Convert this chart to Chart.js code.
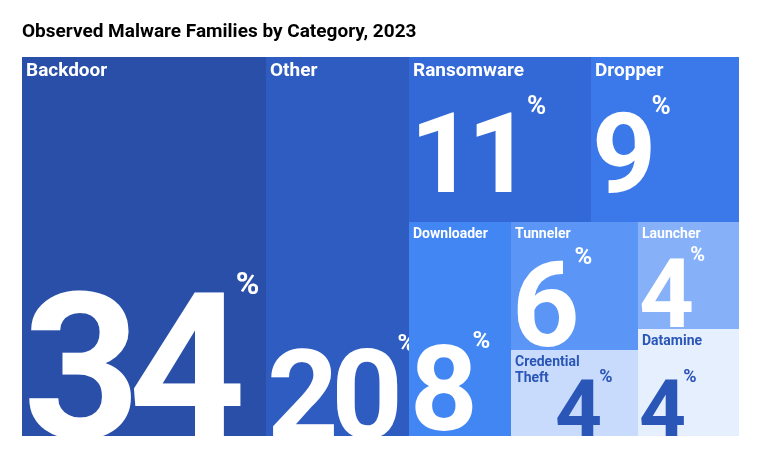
<!DOCTYPE html>
<html><head><meta charset="utf-8">
<script src="https://cdn.jsdelivr.net/npm/chart.js@4"></script>
<style>html,body{margin:0;padding:0;background:#fff}#c{display:block}</style>
</head><body>
<div style="width:771px;height:471px"><canvas id="c"></canvas></div>
<script>
const title = "Observed Malware Families by Category, 2023";
const categories = ["Backdoor","Other","Ransomware","Dropper","Downloader","Tunneler","Credential Theft","Launcher","Datamine"];
const values = [34,20,11,9,8,6,4,4,4];

const style = {
  "Backdoor":{bg:"#2a4fa8",fg:"#fff",fs:205,ls:19,pct:32,lift:-2,dx:1},
  "Other":{bg:"#2f5cc0",fg:"#fff",fs:125,ls:19,pct:24,lift:-2,dx:1},
  "Ransomware":{bg:"#3368d7",fg:"#fff",fs:112,ls:19,pct:26,lift:30,dx:1},
  "Dropper":{bg:"#3b78ea",fg:"#fff",fs:112,ls:19,pct:26,lift:30,dx:1},
  "Downloader":{bg:"#4286f4",fg:"#fff",fs:118,ls:14,pct:24,lift:6,dx:1},
  "Tunneler":{bg:"#5b96f6",fg:"#fff",fs:118,ls:14,pct:24,lift:4,dx:1},
  "Credential Theft":{bg:"#c8dbfc",fg:"#2a56b8",fs:82,ls:14,pct:18,lift:-2,dx:44},
  "Launcher":{bg:"#86b1f8",fg:"#fff",fs:96,ls:14,pct:20,lift:2,dx:1},
  "Datamine":{bg:"#e6effd",fg:"#2a56b8",fs:82,ls:14,pct:18,lift:-2,dx:1}
};

function layout(){
  const v = {}; categories.forEach((c,i)=>v[c]=values[i]);
  const R = {};
  let x = 0;
  R["Backdoor"] = [x, 0, x+v["Backdoor"], 100]; x += v["Backdoor"];
  R["Other"] = [x, 0, x+v["Other"], 100]; x += v["Other"];
  const gw = 100 - x;
  const top = v["Ransomware"]+v["Dropper"];
  const bot = gw - top;
  const th = 100*top/gw;
  let gx = x;
  R["Ransomware"] = [gx,0,gx+gw*v["Ransomware"]/top,th]; gx = R["Ransomware"][2];
  R["Dropper"] = [gx,0,100,th];
  const cols = [["Downloader"],["Tunneler","Credential Theft"],["Launcher","Datamine"]];
  gx = x;
  cols.forEach(col=>{
    const s = col.reduce((a,c)=>a+v[c],0);
    const w = gw*s/bot;
    let y = th;
    col.forEach(c=>{const h=(100-th)*v[c]/s; R[c]=[gx,y,gx+w,y+h]; y+=h;});
    gx += w;
  });
  return R;
}
const rects = layout();

const treemap = {
  id:'treemap',
  afterDraw(chart){
    const {ctx, scales:{x:xs,y:ys}} = chart;
    ctx.save();
    ctx.fillStyle="#000";
    ctx.font="bold 19px Roboto";
    ctx.textBaseline="alphabetic";
    ctx.fillText(title,22,37);
    categories.forEach((c,i)=>{
      const r = rects[c], s = style[c];
      const x0=Math.round(xs.getPixelForValue(r[0])), x1=Math.round(xs.getPixelForValue(r[2]));
      const y0=Math.round(ys.getPixelForValue(r[1])), y1=Math.round(ys.getPixelForValue(r[3]));
      ctx.save();
      ctx.beginPath(); ctx.rect(x0,y0,x1-x0,y1-y0); ctx.clip();
      ctx.fillStyle=s.bg; ctx.fillRect(x0-1,y0-1,x1-x0+2,y1-y0+2);
      ctx.fillStyle=s.fg;
      ctx.font=`bold ${s.ls}px Roboto`;
      ctx.textBaseline="top";
      const lines = c==="Credential Theft"?["Credential","Theft"]:[c];
      lines.forEach((l,k)=>ctx.fillText(l,x0+4,y0+5+k*s.ls*1.2));
      const num = String(values[i]);
      ctx.font=`bold ${s.fs}px Roboto`;
      ctx.letterSpacing = (-s.fs*0.06)+"px";
      ctx.textBaseline="alphabetic";
      const base = y1 - s.lift;
      ctx.fillText(num,x0+s.dx,base);
      const w = ctx.measureText(num).width;
      const capTop = base - s.fs*0.71;
      ctx.letterSpacing="0px";
      ctx.font=`bold ${s.pct}px Roboto`;
      ctx.fillText("%",x0+s.dx+w+2,capTop+2);
      ctx.restore();
    });
    ctx.restore();
  }
};

new Chart(document.getElementById('c'),{
  type:'scatter',
  data:{datasets:[{data:[]}]},
  options:{
    responsive:true,maintainAspectRatio:false,animation:false,
    layout:{padding:{left:22,right:32,top:57,bottom:35}},
    plugins:{legend:{display:false},tooltip:{enabled:false}},
    scales:{
      x:{type:'linear',min:0,max:100,display:false},
      y:{type:'linear',min:0,max:100,reverse:true,display:false}
    }
  },
  plugins:[treemap]
});
</script>
</body></html>
